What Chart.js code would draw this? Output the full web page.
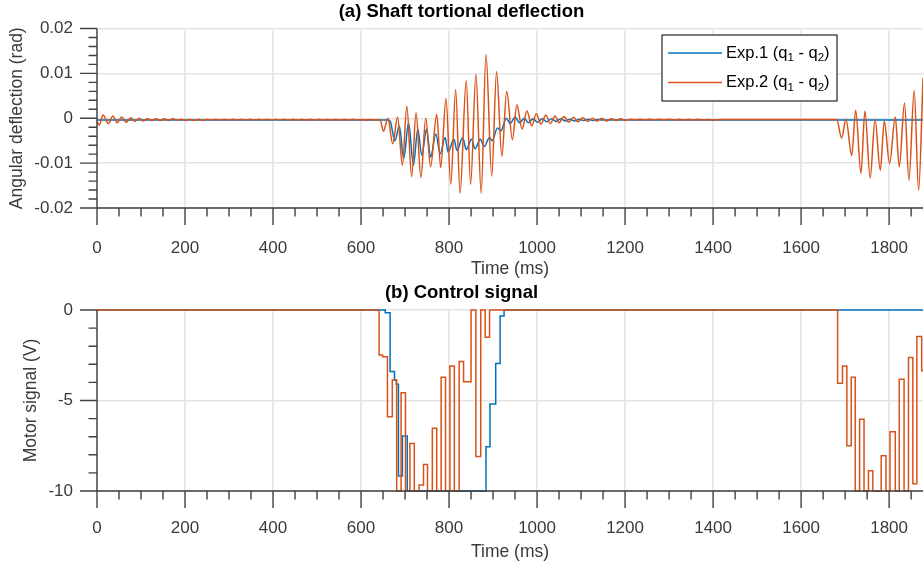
<!DOCTYPE html>
<html>
<head>
<meta charset="utf-8">
<script src="https://cdn.jsdelivr.net/npm/chart.js@4.4.0/dist/chart.umd.min.js"></script>
<style>
  html, body { margin: 0; padding: 0; background: #fff; overflow: hidden; }
  #wrap { position: relative; width: 923px; height: 566px; }
  canvas { position: absolute; left: 0; }
  #top { top: 0; }
  #bottom { top: 282px; }
</style>
</head>
<body>
<div id="wrap">
  <canvas id="top" width="923" height="282"></canvas>
  <canvas id="bottom" width="923" height="284"></canvas>
</div>
<script>
// time range shown (ms)
const timeMin = 0;
const timeMax = 1877;

// (a) shaft deflection, [time ms, rad]
const exp1Deflection = [
  [0, -0.0004], [660, -0.0004], [666, -0.0006], [677, -0.005], [687, -0.0017], [697, -0.009],
  [708, -0.001], [719, -0.0105], [729, -0.0024], [738, -0.0083], [749, -0.0024], [758, -0.0087],
  [770, -0.0035], [780, -0.0079], [791, -0.0043], [798, -0.0076], [811, -0.0046], [818, -0.0072],
  [831, -0.0043], [839, -0.007], [851, -0.0047], [859, -0.0068], [871, -0.0047], [880, -0.0063],
  [892, -0.0043], [898, -0.005], [910, -0.0022], [918, -0.0028], [930, 0.0], [939, -0.0012],
  [950, 0.0003], [960, -0.001], [971, 0.0], [980, -0.001], [991, -0.0001], [1001, -0.0009],
  [1012, -0.0001], [1022, -0.0008], [1033, -0.0001], [1043, -0.0007], [1054, -0.0001], [1064, -0.0006],
  [1075, -0.0002], [1085, -0.0006], [1096, -0.0002], [1106, -0.0005], [1117, -0.0002], [1127, -0.0005],
  [1138, -0.0003], [1148, -0.0004], [1170, -0.0004], [1877, -0.0004]
];

const exp2Deflection = [
  [0, -0.0008], [5, -0.0015], [14, 0.0007], [26, -0.0012], [36, 0.0005], [46, -0.001],
  [56, 0.0003], [66, -0.0009], [77, 0.0001], [86, -0.0007], [96, 0.0], [105, -0.0006],
  [115, -0.0001], [125, -0.0005], [134, -0.0001], [144, -0.0005], [153, -0.0001], [163, -0.0005],
  [172, -0.0001], [182, -0.0004], [192, -0.0002], [202, -0.0005], [211, -0.0002], [221, -0.0005],
  [231, -0.0002], [241, -0.0005], [250, -0.0002], [260, -0.0004], [270, -0.0002], [280, -0.0004],
  [289, -0.0002], [299, -0.0004], [309, -0.0002], [319, -0.0004], [328, -0.0002], [338, -0.0004],
  [348, -0.0002], [358, -0.0004], [367, -0.0002], [377, -0.0004], [387, -0.0002], [397, -0.0004],
  [406, -0.0002], [416, -0.0004], [426, -0.0002], [436, -0.0004], [445, -0.00025], [455, -0.0004],
  [465, -0.00025], [475, -0.0004], [484, -0.00025], [494, -0.0004], [504, -0.00025], [514, -0.0004],
  [523, -0.00025], [533, -0.0004], [543, -0.00025], [553, -0.0004], [562, -0.00025], [572, -0.0004],
  [582, -0.00025], [592, -0.0004], [601, -0.0003], [611, -0.0004], [621, -0.0003], [631, -0.0004],
  [643, -0.0003], [651, -0.0029], [661, 0.0], [672, -0.0057], [683, 0.0003], [694, -0.0105],
  [704, 0.0027], [715, -0.013], [725, 0.0012], [736, -0.0132], [747, 0.0], [758, -0.0108],
  [772, 0.0009], [781, -0.011], [793, 0.0044], [804, -0.0147], [815, 0.0064], [825, -0.0167],
  [839, 0.0084], [849, -0.0147], [861, 0.0098], [873, -0.0167], [884, 0.0142], [897, -0.0129],
  [908, 0.0104], [920, -0.0085], [931, 0.006], [944, -0.0048], [954, 0.003], [966, -0.0024],
  [977, 0.0016], [988, -0.0017], [998, 0.001], [1009, -0.0013], [1020, 0.0007], [1030, -0.0012],
  [1041, 0.0005], [1050, -0.001], [1061, 0.0004], [1072, -0.0009], [1083, 0.0002], [1093, -0.0008],
  [1104, 0.0001], [1115, -0.0007], [1126, 0.0], [1136, -0.0006], [1147, 0.0], [1158, -0.0006],
  [1169, -0.0001], [1180, -0.0005], [1190, -0.0001], [1201, -0.0005], [1212, -0.0002], [1223, -0.0004],
  [1234, -0.0002], [1245, -0.0004], [1256, -0.0002], [1267, -0.0004], [1278, -0.0002], [1289, -0.0004],
  [1300, -0.0002], [1311, -0.0004], [1322, -0.00025], [1333, -0.0004], [1344, -0.00025], [1355, -0.0004],
  [1366, -0.00025], [1377, -0.0004], [1388, -0.0003], [1399, -0.0004], [1420, -0.0003], [1681, -0.0003],
  [1692, -0.0044], [1702, -0.0002], [1715, -0.0083], [1724, 0.0018], [1736, -0.0123], [1745, 0.0016],
  [1757, -0.0133], [1768, -0.0002], [1780, -0.0116], [1789, -0.0006], [1801, -0.0101], [1814, 0.0003],
  [1823, -0.0108], [1835, 0.0034], [1845, -0.0138], [1857, 0.0062], [1867, -0.0161], [1877, 0.0089]
];

// (b) control signal, [time ms, V] - value holds from that time on
const exp1Control = [
  [0, 0], [655, -0.15], [666, -3.4], [676, -3.87], [680, -4.1], [685, -9.17], [694, -6.96],
  [705, -10], [884, -7.55], [893, -5.19], [906, -2.95], [916, -0.33], [925, 0], [1877, 0]
];

const exp2Control = [
  [0, 0], [641, -2.49], [649, -2.58], [660, -5.9], [671, -3.87], [681, -10], [691, -4.57],
  [701, -10], [711, -7.37], [721, -10], [732, -9.67], [742, -8.53], [751, -10], [762, -6.54],
  [772, -10], [782, -3.72], [792, -10], [802, -3.09], [812, -10], [823, -2.85], [833, -3.96],
  [850, 0], [861, -8.1], [872, 0], [882, -1.51], [892, 0], [1683, -4.05], [1694, -3.09],
  [1704, -7.5], [1714, -3.72], [1723, -10], [1733, -6.04], [1743, -10], [1753, -8.88],
  [1763, -10], [1782, -8.05], [1793, -10], [1802, -6.72], [1814, -10], [1823, -3.83],
  [1834, -10], [1844, -2.63], [1854, -9.6], [1863, -1.47], [1874, -3.35], [1877, -3.35]
];

const BLUE = '#0072BD';
const ORANGE = '#D95319';
const AXIS = '#404040';
const TEXT = '#3a3a3a';
const GRID = '#e4e4e4';
const FONT = "'Liberation Sans', Arial, Helvetica, sans-serif";

const toXY = arr => arr.map(p => ({ x: p[0], y: p[1] }));

// major/minor tick marks and axis lines, MATLAB style (ticks outward)
function axesDecor(yMinor, yEvery, xMinor, xEvery) {
  return {
    id: 'axesDecor',
    afterDatasetsDraw(chart) {
      const ctx = chart.ctx;
      const xs = chart.scales.x, ys = chart.scales.y;
      const a = chart.chartArea;
      ctx.save();
      ctx.strokeStyle = AXIS;
      ctx.lineWidth = 1.4;
      ctx.beginPath();
      ctx.moveTo(a.left, a.top);
      ctx.lineTo(a.left, a.bottom);
      ctx.lineTo(a.right, a.bottom);
      const ny = Math.round((ys.max - ys.min) / yMinor);
      for (let i = 0; i <= ny; i++) {
        const py = ys.getPixelForValue(ys.min + i * yMinor);
        const len = i % yEvery === 0 ? 17 : 8.5;
        ctx.moveTo(a.left - len, py);
        ctx.lineTo(a.left, py);
      }
      for (let i = 0; xs.min + i * xMinor <= xs.max; i++) {
        const px = xs.getPixelForValue(xs.min + i * xMinor);
        const len = i % xEvery === 0 ? 17 : 8.5;
        ctx.moveTo(px, a.bottom);
        ctx.lineTo(px, a.bottom + len);
      }
      ctx.stroke();
      ctx.restore();
    }
  };
}

// boxed legend inside the axes, parts allow subscripts
function boxLegend(box, entries) {
  return {
    id: 'boxLegend',
    afterDraw(chart) {
      const ctx = chart.ctx;
      ctx.save();
      ctx.fillStyle = '#fff';
      ctx.fillRect(box.x, box.y, box.w, box.h);
      ctx.strokeStyle = '#262626';
      ctx.lineWidth = 1.2;
      ctx.strokeRect(box.x, box.y, box.w, box.h);
      entries.forEach((e, i) => {
        const y = box.y + box.first + i * box.gap;
        ctx.strokeStyle = e.color;
        ctx.lineWidth = 1.5;
        ctx.beginPath();
        ctx.moveTo(box.x + 6, y);
        ctx.lineTo(box.x + 60, y);
        ctx.stroke();
        let x = box.x + 64;
        ctx.fillStyle = '#000';
        ctx.textBaseline = 'middle';
        e.parts.forEach(p => {
          const size = p.sub ? 11.5 : 16.5;
          ctx.font = size + 'px ' + FONT;
          ctx.fillText(p.t, x, p.sub ? y + 5 : y);
          x += ctx.measureText(p.t).width;
        });
      });
      ctx.restore();
    }
  };
}

function makeOptions(cfg) {
  return {
    responsive: false,
    devicePixelRatio: 1,
    animation: false,
    events: [],
    layout: { padding: 0 },
    plugins: {
      legend: { display: false },
      tooltip: { enabled: false },
      title: {
        display: true,
        text: cfg.title,
        color: '#000',
        font: { family: FONT, size: 18.5, weight: 'bold', lineHeight: 1 },
        padding: cfg.titlePad
      }
    },
    scales: {
      x: {
        type: 'linear',
        min: timeMin,
        max: timeMax,
        grid: { color: GRID, lineWidth: 1.5, drawTicks: false },
        border: { display: false },
        ticks: {
          stepSize: 200, includeBounds: false, maxRotation: 0, autoSkip: false,
          color: TEXT, font: { family: FONT, size: 17 }, padding: cfg.xPad,
          callback: v => String(v)
        },
        title: {
          display: true, text: 'Time (ms)', color: TEXT,
          font: { family: FONT, size: 17.5 }, padding: { top: 0, bottom: cfg.xTitlePad }
        },
        afterFit: s => {
          s.height = cfg.xHeight;
          s.paddingLeft = 0;
          s.paddingRight = 0;
        }
      },
      y: {
        min: cfg.yMin,
        max: cfg.yMax,
        grid: { color: GRID, lineWidth: 1.5, drawTicks: false },
        border: { display: false },
        ticks: {
          stepSize: cfg.yStep, color: TEXT, font: { family: FONT, size: 17 }, padding: 24,
          callback: cfg.yFormat
        },
        title: {
          display: true, text: cfg.yTitle, color: TEXT,
          font: { family: FONT, size: 17.5 }, padding: { top: cfg.yTitlePad, bottom: 0 }
        },
        afterFit: s => {
          s.width = 97;
          s.paddingTop = 0;
          s.paddingBottom = 0;
        }
      }
    }
  };
}

function lineSet(label, pts, color, order, stepped) {
  return {
    label: label,
    data: toXY(pts),
    borderColor: color,
    borderWidth: 1.5,
    pointRadius: 0,
    fill: false,
    order: order,
    clip: 4,
    stepped: stepped ? 'before' : false,
    cubicInterpolationMode: stepped ? 'default' : 'monotone'
  };
}

new Chart(document.getElementById('top'), {
  type: 'line',
  data: {
    datasets: [
      lineSet('Exp.1 (q1 - q2)', exp1Deflection, BLUE, 2, false),
      lineSet('Exp.2 (q1 - q2)', exp2Deflection, ORANGE, 1, false)
    ]
  },
  options: makeOptions({
    title: '(a) Shaft tortional deflection',
    titlePad: { top: 3, bottom: 7 },
    yMin: -0.02, yMax: 0.02, yStep: 0.01,
    yFormat: v => Math.abs(v) < 1e-9 ? '0' : v.toFixed(2),
    yTitle: 'Angular deflection (rad)', yTitlePad: 7,
    xPad: 30, xTitlePad: 2, xHeight: 74
  }),
  plugins: [
    axesDecor(0.002, 5, 50, 4),
    boxLegend({ x: 662, y: 35, w: 175, h: 66, first: 18, gap: 29.5 }, [
      { color: BLUE, parts: [{ t: 'Exp.1 (q' }, { t: '1', sub: true }, { t: ' - q' }, { t: '2', sub: true }, { t: ')' }] },
      { color: ORANGE, parts: [{ t: 'Exp.2 (q' }, { t: '1', sub: true }, { t: ' - q' }, { t: '2', sub: true }, { t: ')' }] }
    ])
  ]
});

new Chart(document.getElementById('bottom'), {
  type: 'line',
  data: {
    datasets: [
      lineSet('Exp.1 (u)', exp1Control, BLUE, 2, true),
      lineSet('Exp.2 (u)', exp2Control, ORANGE, 1, true)
    ]
  },
  options: makeOptions({
    title: '(b) Control signal',
    titlePad: { top: 2, bottom: 7.5 },
    yMin: -10, yMax: 0, yStep: 5,
    yFormat: v => String(Math.round(v)),
    yTitle: 'Motor signal (V)', yTitlePad: 21,
    xPad: 27, xTitlePad: 3, xHeight: 75
  }),
  plugins: [
    axesDecor(1, 5, 50, 4),
    boxLegend({ x: 689, y: 322, w: 135, h: 48, first: 17, gap: 18 }, [
      { color: BLUE, parts: [{ t: 'Exp.1 (u)' }] },
      { color: ORANGE, parts: [{ t: 'Exp.2 (u)' }] }
    ])
  ]
});
</script>
</body>
</html>
